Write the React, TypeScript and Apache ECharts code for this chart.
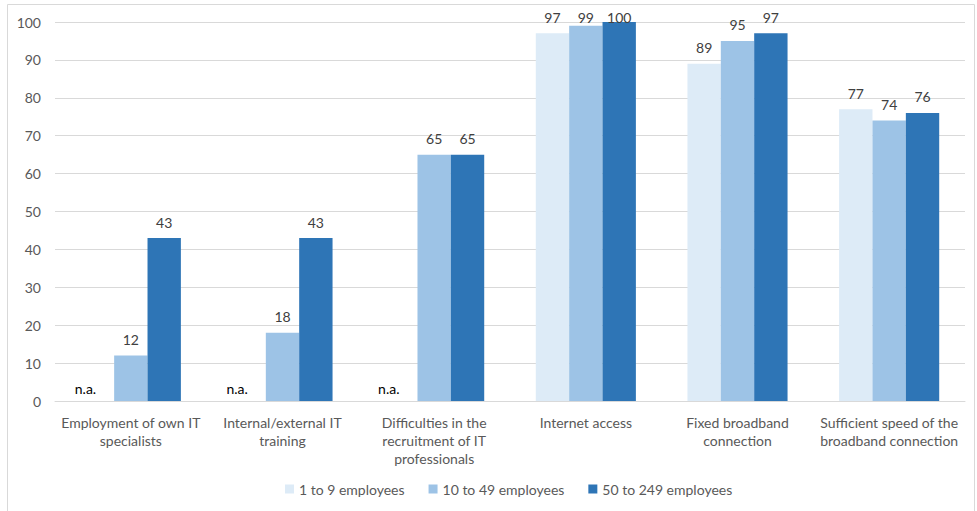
import React, { useEffect, useRef } from "react";
import * as echarts from "echarts";

const categories = [
  "Employment of own IT\nspecialists",
  "Internal/external IT\ntraining",
  "Difficulties in the\nrecruitment of IT\nprofessionals",
  "Internet access",
  "Fixed broadband\nconnection",
  "Sufficient speed of the\nbroadband connection",
];
const seriesNames = ["1 to 9 employees", "10 to 49 employees", "50 to 249 employees"];
const small: (number | null)[] = [null, null, null, 97, 89, 77];
const medium: (number | null)[] = [12, 18, 65, 99, 95, 74];
const large: (number | null)[] = [43, 43, 65, 100, 97, 76];
const colors = ["#DDEBF7", "#9DC3E6", "#2E75B6"];
const yTicks = [0, 10, 20, 30, 40, 50, 60, 70, 80, 90, 100];

const FONT = "Lato";
const GRID_TOP = 22;
const GRID_BOTTOM_Y = 401;
const LABEL_MIN_CENTER = 17;

function labelDistance(v: number) {
  const top = GRID_BOTTOM_Y - (v / 100) * (GRID_BOTTOM_Y - GRID_TOP);
  return Math.min(9, top - 7 - LABEL_MIN_CENTER);
}

export default function App() {
  const ref = useRef<HTMLDivElement>(null);
  useEffect(() => {
    const chart = echarts.init(ref.current!, undefined, { renderer: "svg" });
    const mk = (vals: (number | null)[], i: number) => ({
      name: seriesNames[i],
      type: "bar",
      barGap: "0%",
      barCategoryGap: "34%",
      itemStyle: { color: colors[i] },
      data: vals.map((v) =>
        v === null
          ? {
              value: 0,
              label: {
                show: true,
                position: "top",
                formatter: "n.a.",
                offset: [-12, 0],
                color: "#000000",
                fontSize: 14,
                fontFamily: FONT,
                distance: 6,
              },
            }
          : { value: v, label: { distance: labelDistance(v) } }
      ),
      label: {
        show: true,
        position: "top",
        color: "#404040",
        fontSize: 14,
        fontFamily: FONT,
        distance: 9,
      },
    });
    chart.setOption({
      animation: false,
      textStyle: { fontFamily: FONT },
      graphic: [
        {
          type: "rect",
          shape: { x: 7.5, y: 4.5, width: 967, height: 520 },
          style: { fill: "none", stroke: "#D9D9D9", lineWidth: 1 },
          silent: true,
        },
      ],
      grid: { left: 55, right: 12, top: GRID_TOP, bottom: 511 - GRID_BOTTOM_Y, containLabel: false },
      legend: {
        bottom: 10,
        left: 280,
        itemWidth: 9,
        itemHeight: 9,
        itemGap: 24,
        icon: "rect",
        textStyle: { color: "#595959", fontSize: 14, fontFamily: FONT },
        data: seriesNames,
      },
      xAxis: {
        type: "category",
        data: categories,
        axisLine: { lineStyle: { color: "#D9D9D9", width: 1 } },
        axisTick: { show: false },
        axisLabel: {
          color: "#595959",
          fontSize: 14,
          fontFamily: FONT,
          lineHeight: 18,
          margin: 12,
          interval: 0,
        },
      },
      yAxis: {
        type: "value",
        min: 0,
        max: 100,
        interval: 10,
        axisLine: { show: false },
        axisTick: { show: false },
        splitLine: { lineStyle: { color: "#D9D9D9", width: 1 } },
        axisLabel: {
          color: "#595959",
          fontSize: 14,
          fontFamily: FONT,
          margin: 14,
          formatter: (v: number) => (yTicks.includes(v) ? String(v) : ""),
        },
      },
      series: [mk(small, 0), mk(medium, 1), mk(large, 2)],
    });
    return () => chart.dispose();
  }, []);
  return (
    <div
      ref={ref}
      style={{ position: "absolute", left: 0, top: 0, width: 977, height: 511 }}
    />
  );
}
